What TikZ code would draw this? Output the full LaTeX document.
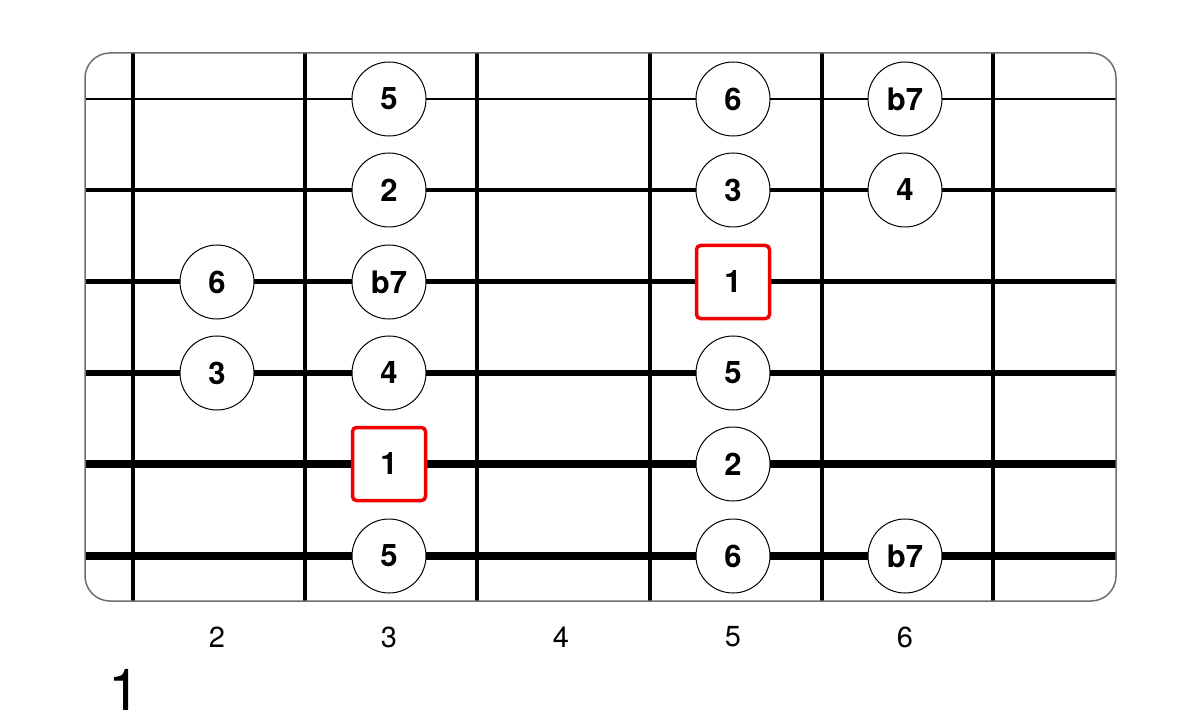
\documentclass[tikz,border=0pt]{standalone}
\usepackage{fontspec}
\setmainfont{TeX Gyre Heros}
\definecolor{frameGray}{RGB}{110,110,110}
\definecolor{rootRed}{RGB}{240,0,0}
\tikzset{
  note/.style={circle, draw=black, line width=1pt, fill=white, minimum size=74pt, inner sep=0pt, font=\fontsize{31}{33}\selectfont\bfseries},
  root/.style={rectangle, rounded corners=4pt, draw=rootRed, line width=3.5pt, fill=white, minimum size=73pt, inner sep=0pt, font=\fontsize{31}{33}\selectfont\bfseries},
  fretline/.style={draw=black, line width=3.2pt},
  fretnum/.style={font=\fontsize{29}{31}\selectfont, inner sep=0pt},
}
\begin{document}
\begin{tikzpicture}[x=1pt,y=-1pt]
\useasboundingbox (0,0) rectangle (1200,722);
% frame
\coordinate (tl) at (85,53);
\coordinate (br) at (1116,601);
\fill[white] (tl) rectangle (br);
% frets
\foreach \x [count=\i] in {133,305,477,650,822,993} {
  \coordinate (ft\i) at (\x,53);
  \coordinate (fb\i) at (\x,601);
  \draw[fretline] (ft\i) -- (fb\i);
}
% strings
\foreach \y/\w [count=\i] in {99/2.3,190/3.6,282/5,373/6.8,464/7.6,556/8.4} {
  \coordinate (sl\i) at (85,\y);
  \coordinate (sr\i) at (1116,\y);
  \draw[line width=\w pt] (sl\i) -- (sr\i);
}
\draw[frameGray, line width=1.5pt, rounded corners=25pt] (tl) rectangle (br);
% notes
\node[note] (n1a) at (389,99) {5};
\node[note] (n1b) at (733,99) {6};
\node[note] (n1c) at (905,99) {b7};
\node[note] (n2a) at (389,190) {2};
\node[note] (n2b) at (733,190) {3};
\node[note] (n2c) at (905,190) {4};
\node[note] (n3a) at (217,282) {6};
\node[note] (n3b) at (389,282) {b7};
\node[root] (n3c) at (733,282) {1};
\node[note] (n4a) at (217,373) {3};
\node[note] (n4b) at (389,373) {4};
\node[note] (n4c) at (733,373) {5};
\node[root] (n5a) at (389,464) {1};
\node[note] (n5b) at (733,464) {2};
\node[note] (n6a) at (389,556) {5};
\node[note] (n6b) at (733,556) {6};
\node[note] (n6c) at (905,556) {b7};
% fret numbers
\node[fretnum] (fn2) at (217,637) {2};
\node[fretnum] (fn3) at (389,637) {3};
\node[fretnum] (fn4) at (561,637) {4};
\node[fretnum] (fn5) at (733,637) {5};
\node[fretnum] (fn6) at (905,637) {6};
\node[font=\fontsize{58}{60}\selectfont, inner sep=0pt] (title) at (125,690) {1};
\end{tikzpicture}
\end{document}
